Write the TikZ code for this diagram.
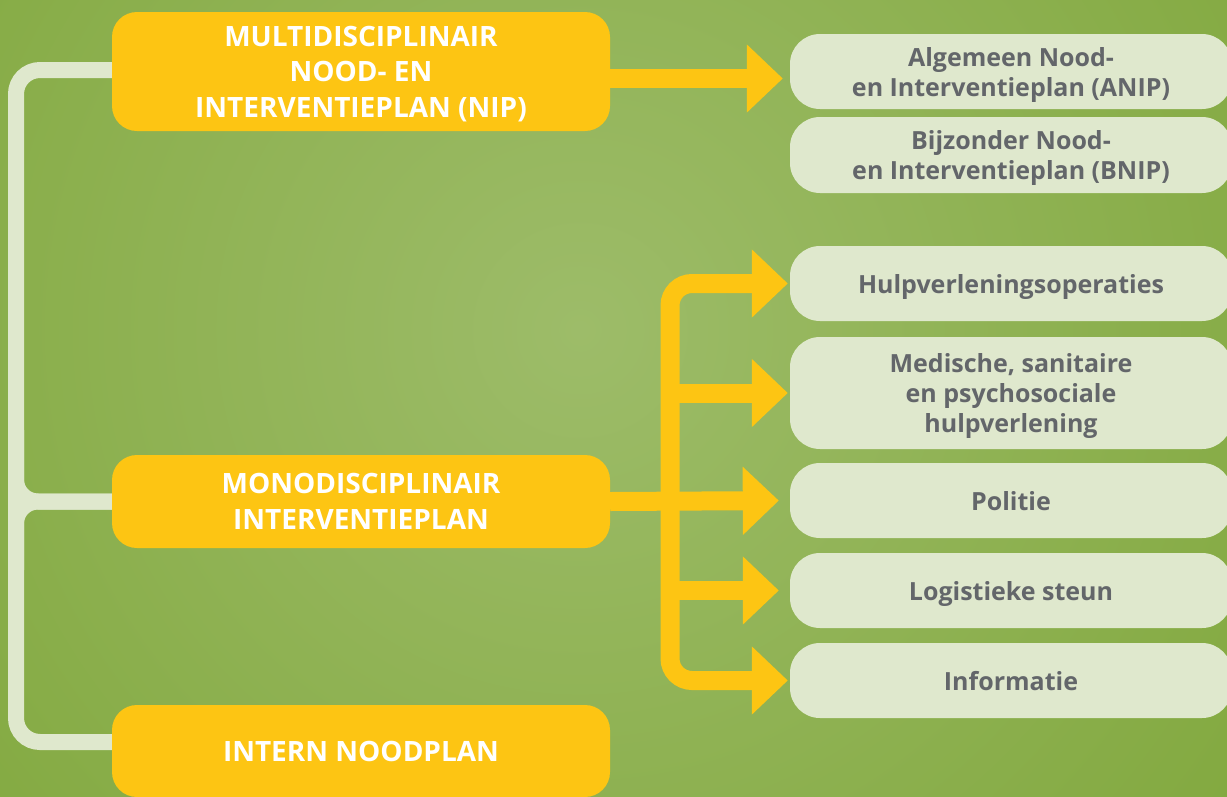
\documentclass[tikz,border=0pt]{standalone}
\usepackage{fontspec}
\setmainfont{Open Sans}
\usetikzlibrary{arrows.meta}
\definecolor{bgin}{HTML}{9DBC69}
\definecolor{bgout}{HTML}{76A02C}
\definecolor{ylw}{HTML}{FDC513}
\definecolor{lgt}{HTML}{DFE8CD}
\definecolor{gtxt}{HTML}{63666A}
\tikzset{
  ybox/.style={fill=ylw, rounded corners=25pt, text=white, font=\fontsize{28}{35.5}\selectfont\bfseries,
    align=center, minimum width=498pt, inner sep=0pt, text depth=0pt},
  gbox/.style={fill=lgt, rounded corners=30pt, text=gtxt, font=\fontsize{25}{30}\selectfont\bfseries,
    align=center, minimum width=442pt, inner sep=0pt, text depth=0pt},
  yarrow/.style={draw=ylw, line width=19pt, -{Triangle[length=36pt,width=66pt]}},
  gline/.style={draw=lgt, line width=16pt},
}
\begin{document}
\begin{tikzpicture}[x=1pt,y=-1pt]
\useasboundingbox (0,0) rectangle (1227,796);
\begin{scope}
  \clip (0,0) rectangle (1227,796);
  \shade[inner color=bgin, outer color=bgout] (580,330) circle (1200);
\end{scope}
\begin{scope}
\clip (0,0) rectangle (1227,796);
% yellow boxes
\node[ybox, minimum height=119pt] (nip) at (361,71.5) {MULTIDISCIPLINAIR\\NOOD- EN\\INTERVENTIEPLAN (NIP)};
\node[ybox, minimum height=93pt] (mono) at (361,501.5) {MONODISCIPLINAIR\\INTERVENTIEPLAN};
\node[ybox, minimum height=92pt] (intern) at (361,751) {INTERN NOODPLAN};
% light boxes
\node[gbox, minimum height=75pt] (anip) at (1011,71.5) {Algemeen Nood-\\en Interventieplan (ANIP)};
\node[gbox, minimum height=76pt] (bnip) at (1011,155) {Bijzonder Nood-\\en Interventieplan (BNIP)};
\node[gbox, minimum height=75pt] (hulp) at (1011,283.5) {Hulpverleningsoperaties};
\node[gbox, minimum height=112pt] (med) at (1011,393) {Medische, sanitaire\\en psychosociale\\hulpverlening};
\node[gbox, minimum height=75pt] (pol) at (1011,500.5) {Politie};
\node[gbox, minimum height=75pt] (log) at (1011,590.5) {Logistieke steun};
\node[gbox, minimum height=75pt] (info) at (1011,680.5) {Informatie};
\end{scope}
% left light connectors
\draw[gline, rounded corners=24pt] ([yshift=1.5pt]nip.west) -| (16,742) -- ([yshift=9pt]intern.west);
\draw[gline, rounded corners=22pt] (16,430) |- (mono.west);
\draw[gline, rounded corners=22pt] (16,570) |- (mono.west);
% yellow arrows
\coordinate (bus) at (670,501.5);
\draw[yarrow, shorten >=7pt] ([yshift=-7pt]nip.east) -- ([yshift=-7pt]nip.east -| anip.west);
\draw[yarrow, shorten >=11pt] (mono.east) -- (pol.west);
\draw[yarrow, rounded corners=22pt, shorten >=2pt] (bus) |- (hulp.west);
\draw[yarrow, shorten >=2pt] (bus |- med.west) -- (med.west);
\draw[yarrow, shorten >=11pt] (bus |- log.west) -- (log.west);
\draw[yarrow, rounded corners=22pt, shorten >=2pt] (bus) |- (info.west);
\end{tikzpicture}
\end{document}
